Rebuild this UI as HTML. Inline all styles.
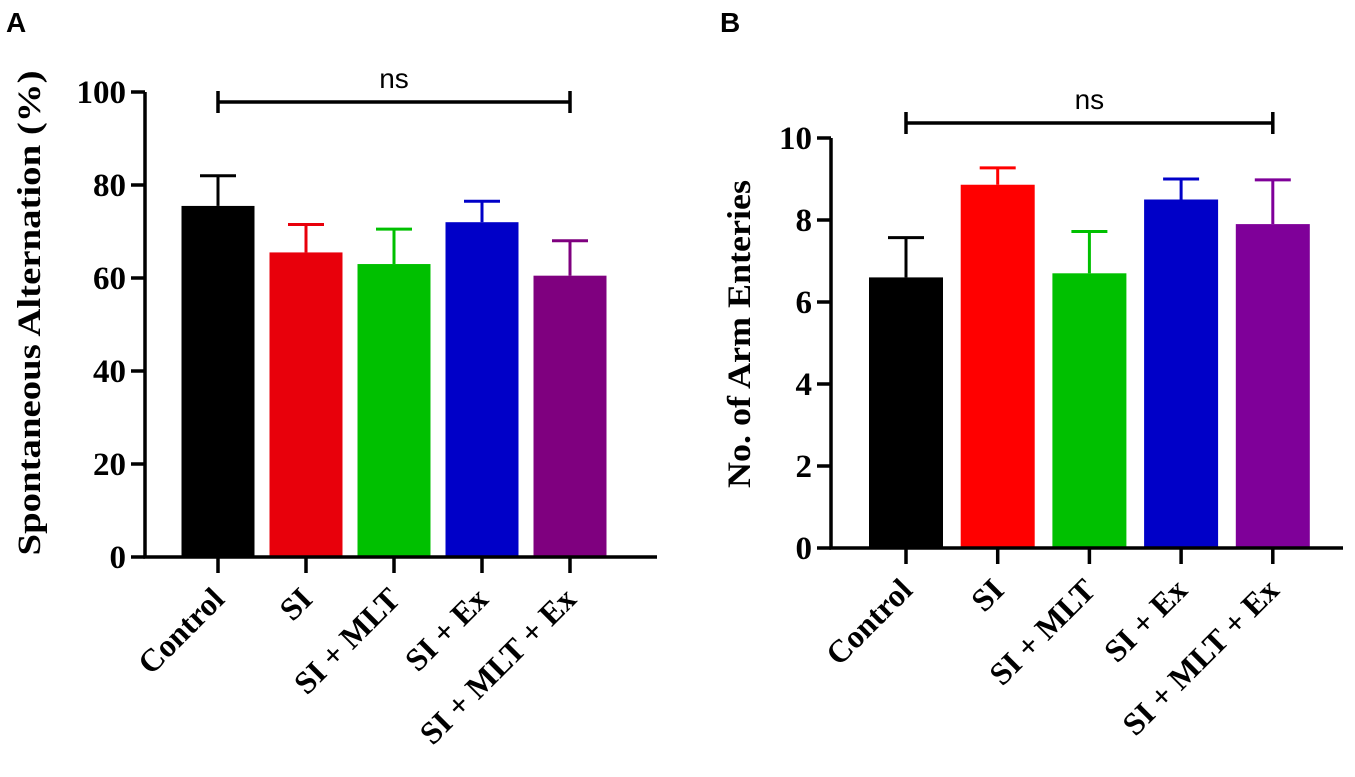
<!DOCTYPE html>
<html><head><meta charset="utf-8"><style>
body{margin:0;background:#fff;}
svg text{font-family:"Liberation Serif",serif;font-weight:bold;fill:#000;}
</style></head><body>
<svg width="1355" height="772" viewBox="0 0 1355 772">
<text x="6" y="32" style="font-family:'Liberation Sans',sans-serif;font-size:28px">A</text>
<text x="720" y="32" style="font-family:'Liberation Sans',sans-serif;font-size:28px">B</text>
<g id="chartA"></g>
<g id="chartB"></g>
</svg>
<script>
const categories = ["Control","SI","SI + MLT","SI + Ex","SI + MLT + Ex"];
const colorsA = ["#000000","#e8000b","#00c000","#0000c8","#7f007f"];
const colorsB = ["#000000","#ff0000","#00c000","#0000c8","#7f0099"];
const valuesA = [75.5,65.5,63,72,60.5];
const errorsA = [82,71.5,70.5,76.5,68];
const ticksA = [0,20,40,60,80,100];
const valuesB = [6.6,8.86,6.7,8.5,7.9];
const errorsB = [7.57,9.27,7.72,9.0,8.98];
const ticksB = [0,2,4,6,8,10];
const NS = "http://www.w3.org/2000/svg";
function mk(parent,tag,attrs,text){const e=document.createElementNS(NS,tag);for(const k in attrs)e.setAttribute(k,attrs[k]);if(text!==undefined)e.textContent=text;parent.appendChild(e);return e;}
function draw(g,cfg,values,errors,ticks,colors){
  const y=v=>cfg.y0-(v-cfg.min)/(cfg.max-cfg.min)*(cfg.y0-cfg.yTop);
  const x=i=>cfg.x0+cfg.first+i*cfg.step;
  values.forEach((v,i)=>{
    const cx=x(i);
    const ev=mk(g,'line',{x1:cx,x2:cx,y1:y(v),y2:y(errors[i]),stroke:colors[i],'stroke-width':3});
    
    
    const cap=mk(g,'line',{x1:cx-18,x2:cx+18,y1:y(errors[i]),y2:y(errors[i]),stroke:colors[i],'stroke-width':3});
    
    
    const r=mk(g,'rect',{x:cx-cfg.bw/2,y:y(v),width:cfg.bw,height:y(0)-y(v),fill:colors[i]});
    
    
    const t=mk(g,'line',{x1:cx,x2:cx,y1:cfg.y0,y2:cfg.y0+16,stroke:'#000','stroke-width':3.5});
    
    
    const lab=mk(g,'text',{x:0,y:0,'text-anchor':'end','font-size':32,transform:`translate(${cx+8},${cfg.y0+44}) rotate(-45)`},categories[i]);
    
    
  });
  const ax=mk(g,'path',{d:`M${cfg.x0},${y(cfg.max)} V${cfg.y0} H${cfg.xEnd}`,fill:'none',stroke:'#000','stroke-width':3.5});
  
  
  ticks.forEach(t=>{
    const tl=mk(g,'line',{x1:cfg.x0-14,x2:cfg.x0,y1:y(t),y2:y(t),stroke:'#000','stroke-width':3.5});
    
    
    const tt=mk(g,'text',{x:cfg.x0-19,y:y(t)+11,'text-anchor':'end','font-size':33},String(t));
    
    
  });
  const ttl=mk(g,'text',{x:0,y:0,'text-anchor':'middle','font-size':33,textLength:cfg.titleLen,lengthAdjust:'spacingAndGlyphs',transform:`translate(${cfg.titleX},${cfg.titleY}) rotate(-90)`},cfg.title);
  
  
  const bx1=x(0),bx2=x(4);
  const br=mk(g,'path',{d:`M${bx1},${cfg.brY-11} V${cfg.brY+11} M${bx1},${cfg.brY} H${bx2} M${bx2},${cfg.brY-11} V${cfg.brY+11}`,fill:'none',stroke:'#000','stroke-width':3.5});
  
  
  const ns=mk(g,'text',{x:(bx1+bx2)/2,y:cfg.brY-14,'text-anchor':'middle','font-size':28,style:"font-family:'Liberation Sans',sans-serif;font-weight:normal"},'ns');
  
  
}
draw(document.getElementById('chartA'),{x0:145,xEnd:657,y0:557,yTop:92,min:0,max:100,first:73,step:88,bw:73,title:'Spontaneous Alternation  (%)',titleLen:485,titleX:40,titleY:313,brY:102},valuesA,errorsA,ticksA,colorsA);
draw(document.getElementById('chartB'),{x0:831,xEnd:1343,y0:548,yTop:138,min:0,max:10,first:75,step:91.7,bw:74,title:'No. of Arm Enteries',titleLen:308,titleX:750,titleY:334,brY:123},valuesB,errorsB,ticksB,colorsB);
</script>
</body></html>
